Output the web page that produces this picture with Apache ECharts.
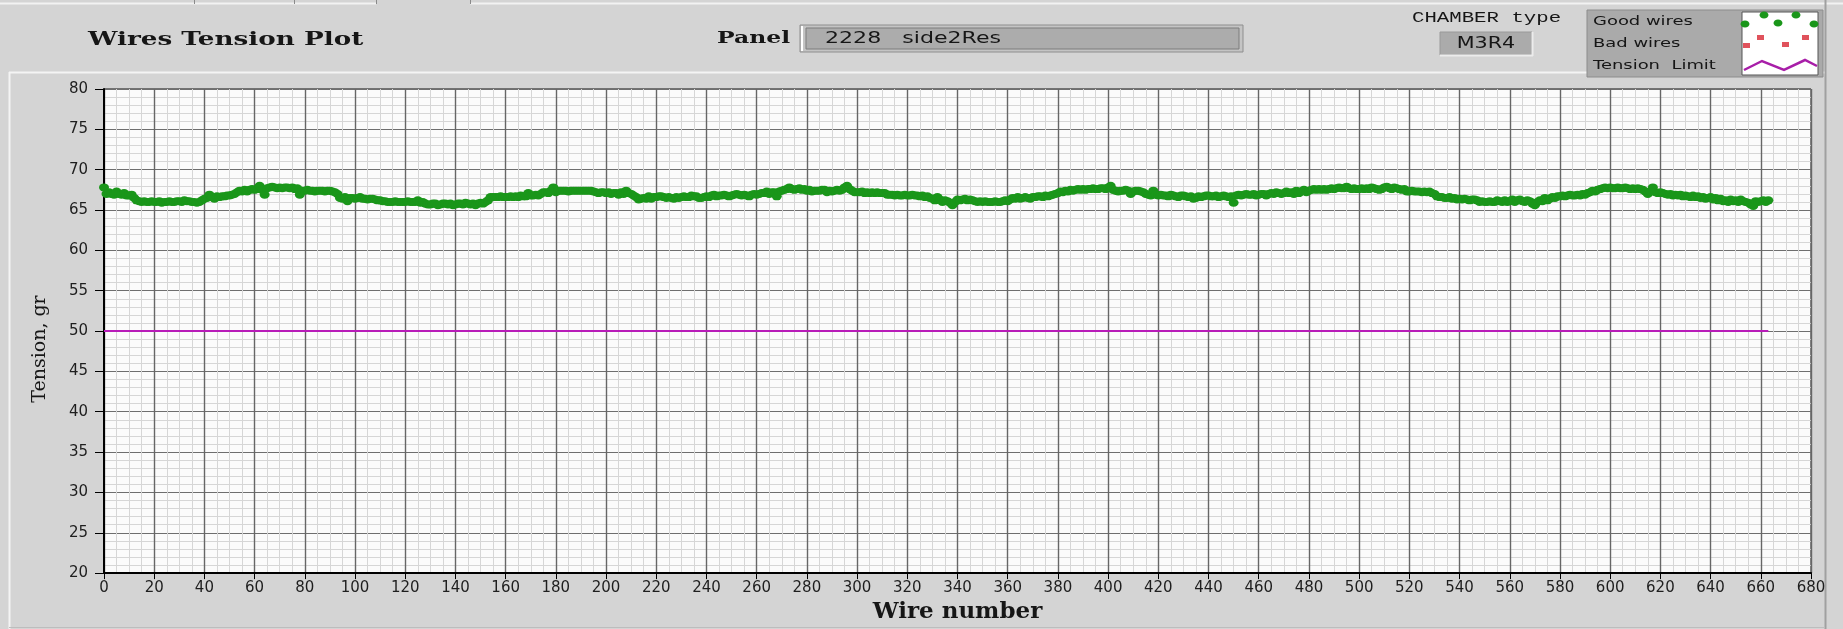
<!DOCTYPE html>
<html>
<head>
<meta charset="utf-8">
<title>Wires Tension Plot</title>
<script src="https://cdn.jsdelivr.net/npm/echarts@6/dist/echarts.min.js"></script>
<style>
  html, body { margin: 0; padding: 0; background: #d4d4d4; }
  #chart { width: 1843px; height: 629px; }
</style>
</head>
<body>
<div id="chart"></div>
<script>
// tension (gr) of each wire, index = wire number
const goodTension = [
  67.8, 67.0, 67.2, 67.0, 66.9, 67.3, 67.0, 66.9, 67.1, 66.8,
  66.8, 66.9, 66.5, 66.2, 66.1, 66.0, 66.1, 66.0, 66.0, 66.1,
  66.0, 66.0, 66.1, 65.9, 66.0, 66.0, 66.1, 66.0, 66.0, 66.1,
  66.1, 66.0, 66.2, 66.1, 66.1, 66.0, 66.0, 65.9, 66.0, 66.2,
  66.4, 66.5, 66.9, 66.6, 66.4, 66.7, 66.6, 66.7, 66.7, 66.8,
  66.8, 66.9, 67.0, 67.2, 67.4, 67.3, 67.5, 67.3, 67.5, 67.6,
  67.5, 67.6, 68.0, 67.5, 66.9, 67.7, 67.8, 67.9, 67.8, 67.7,
  67.8, 67.7, 67.8, 67.8, 67.7, 67.8, 67.6, 67.7, 66.9, 67.4,
  67.4, 67.5, 67.4, 67.4, 67.3, 67.4, 67.4, 67.4, 67.3, 67.4,
  67.4, 67.3, 67.2, 67.0, 66.5, 66.4, 66.6, 66.1, 66.5, 66.5,
  66.4, 66.5, 66.6, 66.4, 66.4, 66.3, 66.4, 66.4, 66.3, 66.2,
  66.2, 66.1, 66.1, 66.0, 66.0, 66.0, 66.1, 66.0, 66.0, 66.0,
  66.0, 66.1, 66.0, 66.0, 66.0, 66.2, 65.9, 66.0, 65.8, 65.7,
  65.7, 65.8, 65.8, 65.6, 65.7, 65.8, 65.8, 65.7, 65.8, 65.6,
  65.7, 65.8, 65.8, 65.7, 65.9, 65.8, 65.7, 65.8, 65.6, 65.8,
  65.9, 65.8, 66.0, 66.2, 66.6, 66.6, 66.6, 66.6, 66.7, 66.6,
  66.6, 66.6, 66.7, 66.6, 66.7, 66.6, 66.8, 66.7, 66.7, 67.1,
  66.8, 66.8, 66.9, 66.8, 67.0, 67.2, 67.2, 67.1, 67.4, 67.8,
  67.2, 67.4, 67.4, 67.4, 67.4, 67.3, 67.4, 67.4, 67.4, 67.4,
  67.4, 67.4, 67.4, 67.4, 67.4, 67.3, 67.2, 67.1, 67.2, 67.2,
  67.1, 67.2, 67.0, 67.1, 67.1, 66.9, 67.2, 67.0, 67.4, 67.1,
  67.0, 66.8, 66.6, 66.3, 66.4, 66.5, 66.4, 66.7, 66.4, 66.6,
  66.6, 66.7, 66.7, 66.6, 66.5, 66.6, 66.5, 66.4, 66.6, 66.5,
  66.6, 66.7, 66.6, 66.6, 66.8, 66.7, 66.7, 66.5, 66.5, 66.6,
  66.7, 66.6, 66.8, 66.9, 66.7, 66.8, 66.8, 66.9, 66.8, 66.7,
  66.8, 66.9, 67.0, 66.9, 66.8, 66.9, 66.8, 66.7, 66.9, 67.0,
  66.9, 67.0, 67.1, 67.1, 67.3, 67.0, 67.2, 67.2, 66.7, 67.3,
  67.4, 67.5, 67.6, 67.8, 67.6, 67.5, 67.6, 67.7, 67.5, 67.6,
  67.4, 67.5, 67.3, 67.4, 67.4, 67.4, 67.5, 67.5, 67.2, 67.4,
  67.3, 67.4, 67.5, 67.4, 67.5, 67.8, 68.0, 67.6, 67.4, 67.2,
  67.2, 67.2, 67.3, 67.1, 67.2, 67.1, 67.2, 67.1, 67.2, 67.1,
  67.1, 67.1, 66.9, 66.9, 66.9, 66.8, 66.9, 66.8, 66.8, 66.9,
  66.8, 66.8, 66.9, 66.8, 66.8, 66.7, 66.8, 66.6, 66.7, 66.5,
  66.4, 66.2, 66.6, 66.3, 66.0, 66.2, 66.1, 65.9, 65.6, 66.0,
  66.3, 66.2, 66.3, 66.4, 66.2, 66.3, 66.2, 66.1, 66.0, 66.1,
  66.0, 66.1, 66.0, 66.0, 66.0, 66.1, 66.0, 66.0, 66.1, 66.2,
  66.1, 66.3, 66.5, 66.4, 66.6, 66.4, 66.5, 66.6, 66.5, 66.4,
  66.6, 66.6, 66.7, 66.7, 66.6, 66.8, 66.7, 66.8, 66.9, 67.0,
  67.1, 67.3, 67.2, 67.4, 67.3, 67.5, 67.4, 67.5, 67.6, 67.5,
  67.6, 67.5, 67.6, 67.6, 67.7, 67.6, 67.6, 67.7, 67.7, 67.6,
  67.8, 68.0, 67.5, 67.4, 67.3, 67.4, 67.4, 67.5, 67.4, 67.0,
  67.3, 67.4, 67.4, 67.3, 67.2, 67.0, 66.9, 66.8, 67.4, 66.9,
  66.8, 66.9, 66.8, 66.8, 66.7, 66.9, 66.8, 66.7, 66.6, 66.8,
  66.8, 66.7, 66.6, 66.7, 66.4, 66.5, 66.7, 66.6, 66.7, 66.8,
  66.8, 66.7, 66.7, 66.8, 66.6, 66.7, 66.8, 66.7, 66.6, 66.7,
  65.9, 66.8, 66.9, 66.8, 66.9, 67.0, 66.9, 66.9, 67.0, 66.8,
  66.9, 67.0, 67.0, 66.8, 67.0, 67.1, 67.0, 67.2, 67.1, 67.0,
  67.1, 67.3, 67.1, 67.2, 67.0, 67.4, 67.1, 67.3, 67.5, 67.2,
  67.4, 67.5, 67.6, 67.5, 67.6, 67.5, 67.6, 67.5, 67.6, 67.7,
  67.6, 67.7, 67.8, 67.7, 67.7, 67.9, 67.7, 67.6, 67.7, 67.6,
  67.6, 67.7, 67.6, 67.7, 67.6, 67.8, 67.7, 67.6, 67.5, 67.6,
  67.8, 67.9, 67.7, 67.6, 67.8, 67.7, 67.6, 67.5, 67.6, 67.3,
  67.3, 67.4, 67.3, 67.3, 67.3, 67.2, 67.3, 67.2, 67.3, 67.1,
  67.0, 66.7, 66.6, 66.6, 66.5, 66.5, 66.6, 66.4, 66.5, 66.3,
  66.4, 66.3, 66.4, 66.3, 66.2, 66.3, 66.3, 66.2, 66.0, 66.1,
  66.0, 66.0, 66.1, 66.0, 66.0, 66.2, 66.1, 66.0, 66.2, 66.0,
  66.1, 66.3, 66.0, 66.2, 66.3, 66.1, 66.0, 66.2, 66.1, 65.8,
  65.6, 66.0, 66.2, 66.1, 66.5, 66.2, 66.4, 66.6, 66.5, 66.7,
  66.7, 66.8, 66.7, 66.8, 66.9, 66.8, 66.8, 66.9, 66.8, 67.0,
  66.9, 67.1, 67.2, 67.4, 67.3, 67.5, 67.6, 67.7, 67.8, 67.7,
  67.8, 67.7, 67.7, 67.8, 67.7, 67.7, 67.8, 67.7, 67.6, 67.7,
  67.6, 67.7, 67.6, 67.5, 67.3, 67.0, 67.3, 67.8, 67.2, 67.1,
  67.2, 67.1, 67.0, 66.9, 67.0, 66.8, 66.9, 66.8, 66.9, 66.7,
  66.8, 66.7, 66.6, 66.8, 66.6, 66.7, 66.5, 66.6, 66.4, 66.5,
  66.6, 66.3, 66.5, 66.2, 66.4, 66.1, 66.2, 66.0, 66.3, 66.1,
  66.2, 66.0, 66.3, 66.1, 66.0, 65.9, 65.7, 65.5, 66.1, 66.0,
  66.1, 66.2, 66.0, 66.2
]
const badWires = []          // no bad wires on this panel
const limitWires = [0, 663]
const limitTension = [50, 50]

const xRange = [0, 680]
const xStep = 20
const yRange = [20, 80]
const yStep = 5

const panelName = '2228   side2Res'
const chamberType = 'M3R4'

// the original screenshot is stretched sideways, so header text gets scaleX
const stretch = 1.38

const txt = (text, x, y, font, extra = {}) => ({
  type: 'text',
  x, y,
  scaleX: stretch,
  silent: true,
  style: Object.assign({
    text, font,
    fill: '#161616',
    textAlign: 'left', textVerticalAlign: 'middle',
    align: 'left', verticalAlign: 'middle'
  }, extra)
})

const line = (x1, y1, x2, y2, color, w = 1) => ({
  type: 'line', silent: true,
  shape: { x1, y1, x2, y2 },
  style: { stroke: color, lineWidth: w }
})

// legend swatches (Good wires dots / Bad wires squares / limit zigzag)
const swatch = { x: 1742, y: 12, w: 76, h: 63 }
const legendGraphics = [
  { type: 'rect', silent: true, shape: { x: 1587, y: 10, width: 236, height: 67 },
    style: { fill: '#aaaaaa', stroke: '#8c8c8c', lineWidth: 1 } },
  { type: 'rect', silent: true, shape: { x: swatch.x, y: swatch.y, width: swatch.w, height: swatch.h },
    style: { fill: '#ffffff', stroke: '#555555', lineWidth: 1 } },
  txt('Good wires', 1593, 22, '13px "DejaVu Sans"'),
  txt('Bad wires', 1593, 44, '13px "DejaVu Sans"'),
  txt('Tension  Limit', 1593, 66, '13px "DejaVu Sans"')
]
;[[3, 12], [22, 3], [36, 11], [54, 3], [72, 12]].forEach(([dx, dy]) => {
  legendGraphics.push({ type: 'ellipse', silent: true,
    shape: { cx: swatch.x + dx, cy: swatch.y + dy, rx: 4.5, ry: 3.5 },
    style: { fill: '#1a961a' } })
})
;[[0, 31], [14, 23], [39, 30], [59, 23]].forEach(([dx, dy]) => {
  legendGraphics.push({ type: 'rect', silent: true,
    shape: { x: swatch.x + dx + 1, y: swatch.y + dy, width: 7, height: 5 },
    style: { fill: '#e0525c' } })
})
legendGraphics.push({ type: 'polyline', silent: true,
  shape: { points: [[2, 58], [20, 49], [42, 58], [63, 48], [75, 54]].map(p => [swatch.x + p[0], swatch.y + p[1]]) },
  style: { stroke: '#a81ea8', lineWidth: 2.5, fill: null } })

const chart = echarts.init(document.getElementById('chart'))

const option = {
  backgroundColor: '#d4d4d4',
  animation: false,
  grid: {
    left: 104, right: 32, top: 89, bottom: 47,
    show: true,
    backgroundColor: '#fbfbfb',
    borderColor: '#111',
    borderWidth: 1
  },
  xAxis: {
    type: 'value',
    min: xRange[0], max: xRange[1], interval: xStep,
    name: 'Wire number',
    nameLocation: 'middle',
    nameGap: 23,
    nameTextStyle: { fontFamily: 'DejaVu Serif', fontWeight: 'bold', fontSize: 23, color: '#161616' },
    axisLine: { show: true, onZero: false, lineStyle: { color: '#000', width: 2 } },
    axisTick: { show: true, length: 6, lineStyle: { color: '#000', width: 1 } },
    axisLabel: { fontFamily: 'DejaVu Sans', fontSize: 15, color: '#1e1e1e', margin: 8 },
    splitLine: { show: true, lineStyle: { color: '#666666', width: 1.4 } },
    minorTick: { show: false, splitNumber: 4 },
    minorSplitLine: { show: true, lineStyle: { color: '#d6d6d6', width: 1 } }
  },
  yAxis: {
    type: 'value',
    min: yRange[0], max: yRange[1], interval: yStep,
    name: 'Tension, gr',
    nameLocation: 'middle',
    nameGap: 54,
    nameTextStyle: { fontFamily: 'DejaVu Serif', fontSize: 19, color: '#161616', padding: [0, 36, 0, 0] },
    axisLine: { show: true, lineStyle: { color: '#000', width: 2 } },
    axisTick: { show: true, length: 9, lineStyle: { color: '#000', width: 1 } },
    axisLabel: { fontFamily: 'DejaVu Sans', fontSize: 15, color: '#1e1e1e', margin: 16 },
    splitLine: { show: true, lineStyle: { color: '#6e6e6e', width: 1 } },
    minorTick: { show: false, splitNumber: 5 },
    minorSplitLine: { show: true, lineStyle: { color: '#d6d6d6', width: 1 } }
  },
  series: [
    {
      name: 'Tension Limit',
      type: 'line',
      data: limitWires.map((w, i) => [w, limitTension[i]]),
      showSymbol: false,
      lineStyle: { color: '#b81cb8', width: 2 },
      silent: true,
      z: 3
    },
    {
      name: 'Good wires',
      type: 'scatter',
      data: goodTension.map((t, i) => [i, t]),
      symbol: 'path://M0,4A5,4 0 1,1 10,4A5,4 0 1,1 0,4Z',
      symbolSize: [10, 8],
      itemStyle: { color: '#1a961a', opacity: 1 },
      silent: true,
      z: 4
    },
    {
      name: 'Bad wires',
      type: 'scatter',
      data: badWires,
      symbol: 'rect',
      symbolSize: [8, 5],
      itemStyle: { color: '#e0525c' },
      z: 5
    }
  ],
  graphic: [
    // tab strip along the very top
    line(0, 3.5, 376, 3.5, '#f2f2f2', 2),
    line(470, 3.5, 1843, 3.5, '#f2f2f2', 2),
    line(194.5, 0, 194.5, 4, '#8a8a8a'),
    line(294.5, 0, 294.5, 4, '#8a8a8a'),
    line(376.5, 0, 376.5, 4, '#8a8a8a'),
    line(470.5, 0, 470.5, 4, '#8a8a8a'),
    // plot panel frame
    line(9, 72.5, 1825, 72.5, '#f4f4f4', 2),
    line(9.5, 72, 9.5, 629, '#f4f4f4', 2),
    line(1825.5, 0, 1825.5, 629, '#a0a0a0', 2),
    line(9, 627.5, 1825, 627.5, '#bdbdbd', 1),

    txt('Wires Tension Plot', 88, 40, 'bold 19px "DejaVu Serif"'),

    txt('Panel', 717, 39, 'bold 17px "DejaVu Serif"'),
    { type: 'rect', silent: true, shape: { x: 800, y: 25, width: 443, height: 27 },
      style: { fill: '#c4c4c4', stroke: '#8e8e8e', lineWidth: 1 } },
    line(802, 26, 802, 51, '#ffffff', 2),
    { type: 'rect', silent: true, shape: { x: 806, y: 28, width: 433, height: 21 },
      style: { fill: '#acacac', stroke: '#7c7c7c', lineWidth: 1 } },
    txt(panelName, 825, 39, '16px "DejaVu Sans"'),

    txt('CHAMBER type', 1412, 18, '15px "Liberation Mono"'),
    { type: 'rect', silent: true, shape: { x: 1440, y: 32, width: 92, height: 23 },
      style: { fill: '#ababab', stroke: '#9a9a9a', lineWidth: 1 } },
    line(1440, 55.5, 1533, 55.5, '#ececec', 2),
    line(1532.5, 32, 1532.5, 56, '#ececec', 2),
    txt(chamberType, 1486, 44, '15px "DejaVu Sans"', { textAlign: 'center', align: 'center' }),

    ...legendGraphics
  ]
}

chart.setOption(option)
window.addEventListener('resize', () => chart.resize())
</script>
</body>
</html>
